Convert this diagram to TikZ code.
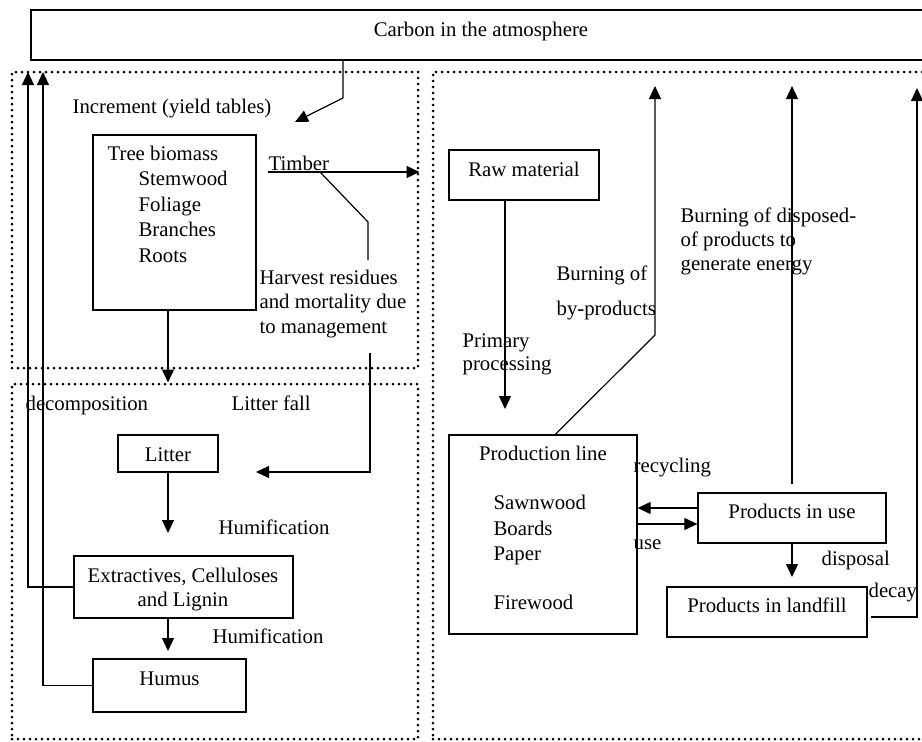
\documentclass[tikz,border=0pt]{standalone}
\usepackage{fontspec}
\setmainfont{Liberation Serif}
\usepackage{tikz}
\usetikzlibrary{arrows.meta}
\usetikzlibrary{positioning}
\usetikzlibrary{calc}
\tikzstyle{box}=[draw,rectangle,inner sep=0pt,line width=1.3pt]
\tikzstyle{pool}=[draw,rectangle,inner sep=0pt,line width=3pt,dash pattern=on 0pt off 6pt,line cap=round]
\tikzstyle{txt}=[inner sep=0pt,anchor=base west]

\begin{document}
\begin{tikzpicture}[x=1pt,y=-1pt,line width=1.2pt,font=\fontsize{20.8}{25}\selectfont,>={Triangle[length=13pt,width=12pt]}]
\useasboundingbox (0,0) rectangle (922,742);
\clip (0,0) rectangle (922,742);
% pools
\node [pool,minimum width=406,minimum height=296] (forest) at (215,220) {};
\node [pool,minimum width=406,minimum height=355] (soil) at (215,561.5) {};
\node [pool,minimum width=502,minimum height=667] (wood) at (684,405.5) {};
% boxes (multi-line texts sit on their last baseline)
\node [box,minimum width=900,minimum height=50] (atm) at (481,35) {};
\node [txt,anchor=base] (atmtxt) at (481,36) {Carbon in the atmosphere};
\node [box,minimum width=163,minimum height=175] (tree) at (174.5,222.5) {};
\node [txt,align=left,font=\fontsize{20.8}{25.5}\selectfont] (treetxt) at (107,262)
  {Tree biomass\\\hspace*{31pt}Stemwood\\\hspace*{31pt}Foliage\\\hspace*{31pt}Branches\\\hspace*{31pt}Roots};
\node [box,minimum width=100,minimum height=37] (litter) at (168,453.5) {};
\node [txt,anchor=base] (littertxt) at (168,461) {Litter};
\node [box,minimum width=219,minimum height=62] (extr) at (183.5,587) {};
\node [txt,anchor=base,align=center,font=\fontsize{20.8}{24}\selectfont] (extrtxt) at (183,606)
  {Extractives, Celluloses\\and Lignin};
\node [box,minimum width=153,minimum height=53] (humus) at (169.5,685.5) {};
\node [txt,anchor=base] (humustxt) at (169.5,685) {Humus};
\node [box,minimum width=150,minimum height=50] (raw) at (524,175) {};
\node [txt,anchor=base] (rawtxt) at (524,176) {Raw material};
\node [box,minimum width=188,minimum height=199] (prod) at (543,534.5) {};
\node [txt,anchor=base] (prodtxt) at (543,460) {Production line};
\node [txt,align=left,font=\fontsize{20.8}{25.5}\selectfont] (prodlist) at (493,609)
  {Sawnwood\\Boards\\Paper\\[23pt]Firewood};
\node [box,minimum width=188,minimum height=50] (use) at (792,518) {};
\node [txt,anchor=base] (usetxt) at (792,518) {Products in use};
\node [box,minimum width=200,minimum height=50] (landfill) at (767,612) {};
\node [txt,anchor=base] (landfilltxt) at (767,612) {Products in landfill};
% labels
\node [txt] (increment) at (72,113) {Increment (yield tables)};
\node [txt] (timber) at (259,170) {\hspace*{9pt}Timber};
\node [txt,align=left,font=\fontsize{20.8}{24.5}\selectfont] (harvest) at (259,333)
  {Harvest residues\\and mortality due\\to management};
\node [txt] (decomp) at (25,410) {decomposition};
\node [txt] (litterfall) at (231,410) {Litter fall};
\node [txt] (humif1) at (218,534) {Humification};
\node [txt] (humif2) at (212,643) {Humification};
\node [txt,align=left,font=\fontsize{20.8}{23}\selectfont] (primary) at (462,370) {Primary\\processing};
\node [txt,align=left] (byprod) at (556,315) {Burning of\\[10pt]by-products};
\node [txt,align=left,font=\fontsize{20.8}{24}\selectfont] (energy) at (680,270)
  {Burning of disposed-\\of products to\\generate energy};
\node [txt] (recycling) at (633,472) {recycling};
\node [txt] (uselbl) at (633,549) {use};
\node [txt] (disposal) at (821,565) {disposal};
\node [txt] (decay) at (868,597) {decay};
% connectors
\coordinate (incA) at (343,98);
\coordinate (incB) at (295,122);
\draw[->] (atm.south -| incA) -- (incA) -- (incB);
\coordinate (timA) at (268,172);
\draw[->] (timA) -- (timA -| forest.east);
\coordinate (hrvA) at (320,172);
\coordinate (hrvB) at (368,222);
\coordinate (hrvC) at (368,260);
\draw (hrvA) -- (hrvB) -- (hrvC);
\coordinate (hrvD) at (370,353);
\coordinate (litIn) at (256,472);
\draw[->] (hrvD) |- (litIn);
\draw[->] (tree.south -| litter) -- (litter |- soil.north);
\coordinate (humA) at (168,533);
\draw[->] (litter.south) -- (humA);
\coordinate (humB) at (168,651);
\draw[->] (extr.south -| litter) -- (humB);
\coordinate (decA) at (28,72);
\coordinate (decB) at (43,72);
\draw[->] (extr.west) -| (decA);
\draw[->] (humus.west) -| (decB);
\coordinate (procA) at (505,409);
\draw[->] (raw.south -| procA) -- (procA);
\coordinate (byA) at (655,335);
\coordinate (byB) at (655,86);
\draw[->] ($(prod.north west)+(107,0)$) -- (byA) -- (byB);
\coordinate (enA) at ($(use.north)+(0,-8)$);
\coordinate (enB) at (792,86);
\draw[->] (enA) -- (enB);
\coordinate (dcA) at (917,617);
\coordinate (dcB) at (917,88);
\draw[->] ($(landfill.east)+(3,5)$) -- (dcA) -- (dcB);
\coordinate (rc) at ($(use.west)+(0,-10)$);
\draw[->] (rc) -- (rc -| prod.east);
\coordinate (uc) at ($(prod.east)+(0,-10.5)$);
\draw[->] (uc) -- (uc -| use.west);
\coordinate (dsp) at (792,577);
\draw[->] (use.south) -- (dsp);
%\draw[->] (use.south) -- (landfill.north);
\end{tikzpicture}
\end{document}
